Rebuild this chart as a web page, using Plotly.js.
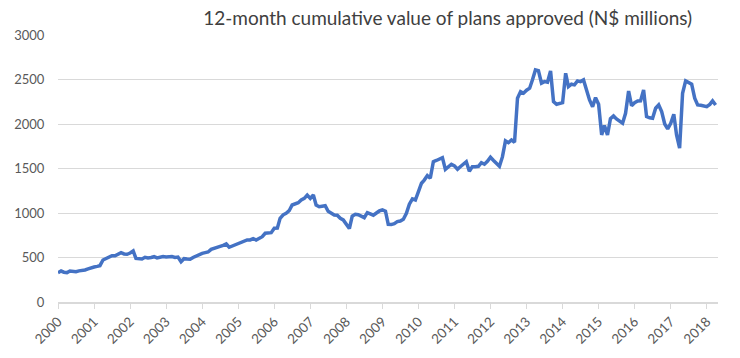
<!DOCTYPE html>
<html>
<head>
<meta charset="utf-8">
<script src="https://cdn.plot.ly/plotly-3.0.1.min.js"></script>
<style>
html,body{margin:0;padding:0;background:#fff;}
#chart{width:740px;height:358px;}
</style>
</head>
<body>
<div id="chart"></div>
<script>
// Monthly series, Jan 2000 .. Apr 2018 (N$ millions, 12-month cumulative)
var startYear = 2000;
var values2000_2004 = [
  330, 348, 335, 330, 348, 345, 340, 350, 352, 360, 372, 386,
  393, 400, 408, 472, 490, 505, 520, 520, 535, 554, 540, 536,
  550, 573, 490, 485, 483, 502, 495, 500, 509, 495, 500, 510,
  505, 505, 510, 500, 505, 453, 487, 482, 480, 500, 517, 540,
  547, 555, 562, 592, 600, 607, 625, 637, 652, 615, 630, 637
];
var values2005_2009 = [
  660, 674, 690, 697, 697, 712, 697, 720, 734, 772, 775, 779,
  828, 830, 940, 980, 997, 1026, 1090, 1100, 1116, 1146, 1165, 1202,
  1165, 1202, 1090, 1071, 1075, 1082, 1020, 997, 978, 975, 940, 922,
  880, 825, 965, 985, 980, 965, 948, 1004, 990, 975, 1000, 1023,
  1034, 1020, 873, 870, 880, 903, 910, 930, 997, 1100, 1158, 1146
];
var values2010_2014 = [
  1240, 1334, 1370, 1420, 1390, 1577, 1590, 1604, 1622, 1490, 1521, 1548,
  1530, 1492, 1520, 1555, 1577, 1470, 1521, 1521, 1525, 1566, 1548, 1580,
  1626, 1590, 1560, 1525, 1630, 1810, 1790, 1821, 1795, 2290, 2364, 2346,
  2380, 2402, 2495, 2608, 2600, 2458, 2476, 2470, 2596, 2251, 2222, 2230,
  2240, 2570, 2420, 2447, 2440, 2484, 2476, 2495, 2383, 2270, 2195, 2296
];
var values2015_2018 = [
  2222, 1877, 1982, 1877, 2060, 2090, 2057, 2030, 2009, 2120, 2370, 2206,
  2240, 2259, 2260, 2383, 2083, 2070, 2065, 2177, 2214, 2140, 2000, 1944,
  2009, 2110, 1877, 1728, 2346, 2484, 2460, 2447, 2290, 2214, 2210, 2206,
  2195, 2220, 2259, 2214
];
var yearTicks = ['2000','2001','2002','2003','2004','2005','2006','2007','2008','2009',
                 '2010','2011','2012','2013','2014','2015','2016','2017','2018'];
var yTicks = [0, 500, 1000, 1500, 2000, 2500, 3000];
var titleText = '12-month cumulative value of plans approved (N$ millions)';

var values = values2000_2004.concat(values2005_2009, values2010_2014, values2015_2018);
var dates = values.map(function(v, i){
  var y = startYear + Math.floor(i/12);
  var m = (i % 12) + 1;
  return y + '-' + (m < 10 ? '0' + m : m) + '-01';
});
var tickDates = yearTicks.map(function(t){ return t + '-01-01'; });

var font = 'Lato, "Open Sans", sans-serif';
Plotly.newPlot('chart', [{
  x: dates, y: values, type: 'scatter', mode: 'lines',
  line: {color: '#4472C4', width: 3.5, shape: 'linear'},
  hoverinfo: 'none'
}], {
  width: 740, height: 358,
  margin: {l: 58, r: 22, t: 35, b: 56, pad: 0},
  paper_bgcolor: '#ffffff', plot_bgcolor: '#ffffff',
  showlegend: false,
  title: {text: titleText, font: {family: font, size: 19, color: '#404040'},
          xref: 'container', x: 0.605, xanchor: 'center', yref: 'container', y: 0.95, yanchor: 'middle'},
  xaxis: {
    type: 'date', range: ['2000-01-01', '2018-04-25'],
    tickmode: 'array', tickvals: tickDates, ticktext: yearTicks,
    tickangle: -45, ticks: 'outside', ticklen: 5, tickcolor: '#d9d9d9', tickwidth: 1,
    showgrid: false, showline: true, linecolor: '#d9d9d9', linewidth: 1.5,
    zeroline: false, tickfont: {family: font, size: 13.5, color: '#595959'}, fixedrange: true
  },
  yaxis: {
    range: [0, 3000], tickmode: 'array', tickvals: yTicks,
    ticks: 'outside', ticklen: 10, tickcolor: 'rgba(0,0,0,0)',
    showgrid: true, gridcolor: '#d9d9d9', gridwidth: 1, zeroline: false, showline: false,
    tickfont: {family: font, size: 13, color: '#595959'}, fixedrange: true
  }
}, {staticPlot: true, displayModeBar: false});
</script>
</body>
</html>
